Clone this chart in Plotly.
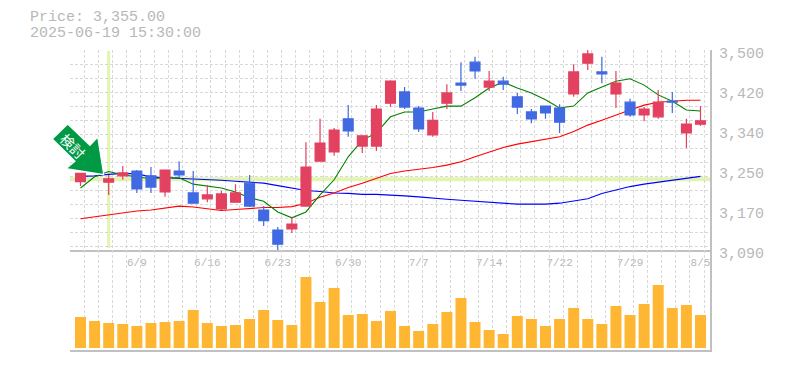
import plotly.graph_objects as go

dates = ["6/3","6/4","6/5","6/6","6/9","6/10","6/11","6/12","6/13","6/16","6/17","6/18","6/19","6/20","6/23",
         "6/24","6/25","6/26","6/27","6/30","7/1","7/2","7/3","7/4","7/7","7/8","7/9","7/10","7/11","7/14",
         "7/15","7/16","7/17","7/18","7/22","7/23","7/24","7/25","7/28","7/29","7/30","7/31","8/1","8/4","8/5"]
tick_dates = ["6/9","6/16","6/23","6/30","7/7","7/14","7/22","7/29","8/5"]

opens = [3230,3268,3229,3242,3252,3242,3209,3252,3207,3195,3174,3188,3227,3172,3131,
         3133,3180,3272,3291,3359,3303,3303,3391,3414,3381,3326,3391,3432,3475,3424,
         3436,3404,3373,3385,3381,3410,3473,3455,3410,3393,3367,3363,3395,3330,3348]
highs = [3247,3275,3244,3262,3254,3260,3254,3272,3252,3223,3211,3225,3244,3180,3137,
         3158,3311,3359,3340,3387,3324,3387,3438,3424,3385,3373,3430,3475,3486,3457,
         3445,3412,3379,3385,3389,3471,3500,3486,3457,3400,3383,3418,3414,3359,3385]
lows = [3221,3256,3203,3234,3207,3207,3199,3238,3186,3188,3172,3188,3178,3139,3090,
        3125,3180,3272,3283,3322,3289,3293,3383,3379,3332,3322,3379,3416,3441,3416,
        3418,3369,3350,3359,3330,3404,3459,3432,3381,3363,3354,3359,3371,3299,3344]
closes = [3247,3254,3236,3248,3215,3219,3254,3244,3186,3203,3205,3207,3180,3150,3102,
          3143,3260,3309,3336,3334,3324,3379,3436,3383,3338,3356,3412,3428,3457,3436,
          3430,3383,3359,3371,3352,3455,3492,3451,3432,3367,3379,3393,3393,3348,3355]

ma_short = [3217,3240,3251,3244,3240,3236,3238,3238,3225,3221,3217,3209,3197,3190,3168,
            3156,3168,3203,3234,3281,3315,3330,3363,3373,3373,3379,3385,3385,3402,3422,
            3434,3422,3412,3398,3381,3385,3412,3424,3436,3441,3428,3408,3395,3377,3375]
ma_mid = [3154,3158,3163,3167,3170,3172,3176,3180,3178,3174,3171,3173,3175,3177,3177,
          3179,3186,3198,3207,3218,3227,3237,3247,3252,3255,3259,3264,3271,3281,3291,
          3300,3307,3312,3317,3322,3333,3346,3356,3367,3377,3387,3393,3395,3397,3397]
ma_long = [3241,3242,3245,3247,3246,3240,3238,3237,3235,3235,3233,3231,3229,3227,3222,
           3217,3212,3210,3207,3206,3204,3204,3203,3201,3199,3196,3194,3192,3190,3188,
           3186,3184,3184,3184,3186,3190,3195,3206,3213,3220,3225,3229,3233,3236,3241]

volumes = [31000,27000,25000,24000,22000,25000,26000,27000,38000,25000,22000,23000,29000,38000,28000,
           23000,71000,46000,60000,33000,34000,27000,37000,22000,17000,24000,36000,50000,26000,18000,
           14000,32000,29000,22000,29000,40000,29000,24000,42000,33000,44000,63000,40000,43000,33000]

price_labels = ["3,500","3,420","3,340","3,250","3,170","3,090"]
price_label_values = [3500,3418,3336,3254,3172,3090]
current_price_level = 3235
marked_date = "6/5"

x = list(range(len(dates)))
XR = [-0.745, 44.675]
YR = [3090, 3500]
GRID = "#D8D8D8"
AXIS = "#C0C0C0"
TEXT = "#B8B8B8"
FONT = "Liberation Mono"

fig = go.Figure()
for vals, col in [(ma_long, "#0000FF"), (ma_mid, "#FF0000"), (ma_short, "#008000")]:
    fig.add_trace(go.Scatter(x=x, y=vals, mode="lines", line=dict(color=col, width=1.1),
                             xaxis="x", yaxis="y", hoverinfo="skip", showlegend=False))
fig.add_trace(go.Candlestick(
    x=x, open=opens, high=highs, low=lows, close=closes, xaxis="x", yaxis="y3",
    increasing=dict(line=dict(color="#E2415F", width=1.2), fillcolor="#E2415F"),
    decreasing=dict(line=dict(color="#4169E1", width=1.2), fillcolor="#4169E1"),
    whiskerwidth=0, showlegend=False, hoverinfo="skip"))
fig.add_trace(go.Bar(x=x, y=volumes, marker=dict(color="#FFB733", line_width=0), width=0.78,
                     xaxis="x2", yaxis="y2", hoverinfo="skip", showlegend=False))


# page position -> paper fraction (the plot area spans 70..710 by 50..350 on the page)
def px(xp, yp):
    return (xp - 70) / 640, (350 - yp) / 300


arrow_pts = [(67.7,124),(52.3,139),(75,161.3),(66,168.7),(103.7,174.7),(97.7,137),(90,145.3)]
path = "M " + " L ".join("%.4f,%.4f" % px(*p) for p in arrow_pts) + " Z"

shapes = [
    dict(type="line", xref="paper", x0=0, x1=1, yref="y", y0=current_price_level, y1=current_price_level,
         line=dict(color="#E2F5AE", width=4), layer="below"),
    dict(type="line", xref="x", x0=dates.index(marked_date), x1=dates.index(marked_date),
         yref="y", y0=3094, y1=3498, line=dict(color="#E2F5AE", width=3), layer="below"),
    dict(type="path", xref="paper", yref="paper", path=path, fillcolor="#009944",
         line=dict(color="white", width=1.2), layer="above"),
]

ax, ay = px(73, 146)
annotations = [
    dict(text="Price: 3,355.00", xref="paper", yref="paper", x=px(28, 0)[0], y=px(0, 18)[1],
         xanchor="left", yanchor="middle", showarrow=False, font=dict(family=FONT, size=15, color=TEXT)),
    dict(text="2025-06-19 15:30:00", xref="paper", yref="paper", x=px(28, 0)[0], y=px(0, 33)[1],
         xanchor="left", yanchor="middle", showarrow=False, font=dict(family=FONT, size=15, color=TEXT)),
    dict(text="検討", xref="paper", yref="paper", x=ax, y=ay, textangle=45, xanchor="center", yanchor="middle",
         showarrow=False, font=dict(family="Noto Sans CJK JP", size=14, color="white")),
]

minor_x = dict(showgrid=True, gridcolor=GRID, griddash="3px,2px", gridwidth=1, dtick=1, tick0=-0.745, ticks="")

fig.update_layout(
    width=770, height=345, margin=dict(l=62, r=68, t=42, b=3, autoexpand=False),
    paper_bgcolor="white", plot_bgcolor="white", showlegend=False, boxgap=0.3, boxgroupgap=0,
    shapes=shapes, annotations=annotations,
    xaxis=dict(domain=[0, 1], range=XR, anchor="y", showgrid=False, zeroline=False,
               showline=True, linecolor=AXIS, linewidth=2, minor=minor_x,
               tickmode="array", tickvals=[dates.index(d) for d in tick_dates], ticktext=tick_dates,
               ticks="", ticklabelstandoff=1, tickangle=0,
               tickfont=dict(family=FONT, size=11, color=TEXT), rangeslider=dict(visible=False)),
    xaxis2=dict(domain=[0, 1], range=XR, anchor="y2", showgrid=False, zeroline=False,
                showline=True, linecolor=AXIS, linewidth=2, minor=minor_x,
                showticklabels=False, ticks="", tickmode="array", tickvals=[]),
    yaxis=dict(domain=[1/3, 1], range=YR, anchor="x", showgrid=True, gridcolor=GRID, griddash="3px,2px",
               gridwidth=1, tick0=3500, dtick=28.7, zeroline=False, showticklabels=False, ticks=""),
    yaxis3=dict(range=YR, overlaying="y", anchor="x", side="right", showgrid=False, zeroline=False,
                showline=True, linecolor=AXIS, linewidth=2, tickmode="array",
                tickvals=price_label_values, ticktext=price_labels, ticks="",
                ticklabelstandoff=4, ticklabelshift=3,
                tickfont=dict(family=FONT, size=15, color=TEXT)),
    yaxis2=dict(domain=[0, 1/3], range=[-2000, 98000], anchor="x2", side="right", showgrid=False,
                zeroline=False, showline=True, linecolor=AXIS, linewidth=2, showticklabels=False, ticks=""),
)
fig.write_html("out.html", config=dict(displayModeBar=False))
